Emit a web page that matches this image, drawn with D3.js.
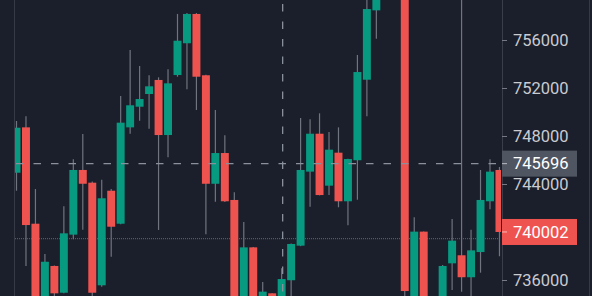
<!DOCTYPE html>
<html>
<head>
<meta charset="utf-8">
<script src="https://cdn.jsdelivr.net/npm/d3@7"></script>
<style>
  html, body { margin: 0; padding: 0; background: #1b1f2b; }
  svg { display: block; }
</style>
</head>
<body>
<div id="chart"></div>
<script>
const width = 592;
const height = 296;

// OHLC values (candles running past the edges are guesses)
const open  = [744940, 748720, 740690, 734300, 737170, 734940, 739780, 745170, 744110, 735560,
               743440, 740690, 748720, 750440, 751500, 752670, 748080, 753080, 755730, 758170,
               753060, 744020, 746580, 742670, 734300, 738720, 734300, 734890, 734300, 735980,
               738860, 745030, 748190, 743860, 746610, 742560, 745980, 752690, 758470, 760800,
               762200, 760000, 734300, 740030, 734000, 734300, 737390, 738060, 736230, 738330,
               742560, 745170];
const high  = [749250, 749640, 743580, 738170, 737200, 742140, 746060, 748170, 744200, 744360,
               743580, 751330, 755170, 753830, 753060, 752890, 753560, 758170, 758250, 758250,
               753100, 750170, 748060, 743310, 740830, 738750, 735830, 734900, 736980, 739050,
               749500, 749390, 749890, 748330, 748720, 746100, 754750, 759800, 761000, 762200,
               762800, 760300, 741230, 740050, 734500, 737250, 741080, 760000, 740190, 745170,
               746060, 745420];
const low   = [743440, 737170, 733600, 733900, 734300, 734900, 739390, 740190, 734200, 735440,
               737940, 740650, 748190, 749280, 748610, 740170, 746230, 752940, 751890, 750170,
               739810, 742530, 742500, 734000, 734000, 733900, 734000, 733800, 734000, 734400,
               738820, 742110, 743050, 743080, 742060, 740560, 742690, 749640, 756110, 759900,
               759400, 734200, 734000, 733900, 733500, 734000, 735170, 735030, 734500, 736610,
               741890, 737980];
const close = [748690, 740580, 734200, 737520, 734890, 739890, 745170, 744020, 734940, 742810,
               740440, 749110, 750560, 751080, 752140, 748080, 752390, 755940, 758170, 752940,
               744020, 746580, 742560, 734300, 738720, 734200, 735030, 734200, 736080, 739000,
               745170, 748190, 743080, 746860, 742560, 746080, 753330, 758580, 760500, 761800,
               759400, 735080, 740030, 734200, 734400, 737170, 739280, 736230, 738470, 742670,
               745030, 740002];

const priceTicks = [736000, 740000, 744000, 748000, 752000, 756000];
const lastPrice = 740002;
const priceLine = 739440;
const crossPrice = 745696;
const crossIndex = 28;

const upColor = "#089981";
const downColor = "#ef5350";

const plotLeft = 15, plotRight = 501, axisX = 502;

const candles = open.map((o, i) => ({
  i, open: o, high: high[i], low: low[i], close: close[i]
}));

const x = d3.scaleBand()
  .domain(candles.map(d => d.i))
  .range([11.77, 504.2])
  .paddingInner(0.16)
  .paddingOuter(0.08);

const y = d3.scaleLinear()
  .domain([734667, 759333])
  .range([height, 0]);

const svg = d3.select("#chart")
  .append("svg")
  .attr("width", width)
  .attr("height", height);

svg.append("rect")
  .attr("width", width)
  .attr("height", height)
  .attr("fill", "#1b1f2b");

svg.append("defs").append("clipPath")
  .attr("id", "plot-clip")
  .append("rect")
  .attr("x", plotLeft)
  .attr("y", 0)
  .attr("width", plotRight - plotLeft)
  .attr("height", height);

// pane borders
svg.append("line")
  .attr("x1", 14.5).attr("x2", 14.5)
  .attr("y1", 0).attr("y2", height)
  .attr("stroke", "#363a46");
svg.append("line")
  .attr("x1", 589.5).attr("x2", 589.5)
  .attr("y1", 0).attr("y2", height)
  .attr("stroke", "#363a46");

const plot = svg.append("g").attr("clip-path", "url(#plot-clip)");

// red price line
plot.append("line")
  .attr("x1", plotLeft).attr("x2", plotRight)
  .attr("y1", y(priceLine)).attr("y2", y(priceLine))
  .attr("stroke", "#a83338")
  .attr("stroke-width", 1.2)
  .attr("stroke-dasharray", "1,1");

const cx = d => x(d.i) + x.bandwidth() / 2;

// wicks
plot.selectAll("line.wick")
  .data(candles)
  .join("line")
  .attr("class", "wick")
  .attr("x1", cx).attr("x2", cx)
  .attr("y1", d => y(d.high))
  .attr("y2", d => y(d.low))
  .attr("stroke", "#70747f")
  .attr("stroke-width", 1.2);

// bodies
plot.selectAll("rect.body")
  .data(candles)
  .join("rect")
  .attr("class", "body")
  .attr("x", d => x(d.i))
  .attr("width", x.bandwidth())
  .attr("y", d => y(Math.max(d.open, d.close)))
  .attr("height", d => Math.max(1, Math.abs(y(d.open) - y(d.close))))
  .attr("fill", d => d.close >= d.open ? upColor : downColor);

// crosshair
const crossX = cx(candles[crossIndex]) + 1;
svg.append("line")
  .attr("x1", crossX).attr("x2", crossX)
  .attr("y1", 0).attr("y2", height)
  .attr("stroke", "#8a919d")
  .attr("stroke-width", 1.3)
  .attr("stroke-dasharray", "7.5,10")
  .attr("stroke-dashoffset", -4);

svg.append("line")
  .attr("x1", plotLeft + 1).attr("x2", axisX)
  .attr("y1", y(crossPrice)).attr("y2", y(crossPrice))
  .attr("stroke", "#8a919d")
  .attr("stroke-width", 1.3)
  .attr("stroke-dasharray", "7.5,10");

// price axis
const axis = svg.append("g")
  .attr("transform", `translate(${axisX},0)`)
  .call(d3.axisRight(y)
    .tickValues(priceTicks)
    .tickSize(5)
    .tickPadding(6)
    .tickFormat(d3.format("d")));

axis.select(".domain")
  .attr("stroke", "#3a3e4a")
  .attr("d", `M0.5,0V${height}`);
axis.selectAll(".tick line").attr("stroke", "#787b86");
axis.selectAll(".tick text")
  .attr("fill", "#c9cbd1")
  .style("font-family", "Roboto, sans-serif")
  .style("font-size", "16.5px");

// price labels
function priceLabel(value, fill) {
  const g = svg.append("g")
    .attr("transform", `translate(${axisX},${y(value)})`);
  g.append("rect")
    .attr("x", 0)
    .attr("y", -13)
    .attr("width", 75)
    .attr("height", 26)
    .attr("fill", fill);
  g.append("line")
    .attr("x1", 0).attr("x2", 5)
    .attr("stroke", "#ffffff")
    .attr("stroke-opacity", 0.6);
  g.append("text")
    .attr("x", 11)
    .attr("dy", "0.35em")
    .attr("fill", "#ffffff")
    .style("font-family", "Roboto, sans-serif")
    .style("font-size", "16.5px")
    .text(value);
}

priceLabel(crossPrice, "#4f5561");
priceLabel(lastPrice, downColor);
</script>
</body>
</html>
